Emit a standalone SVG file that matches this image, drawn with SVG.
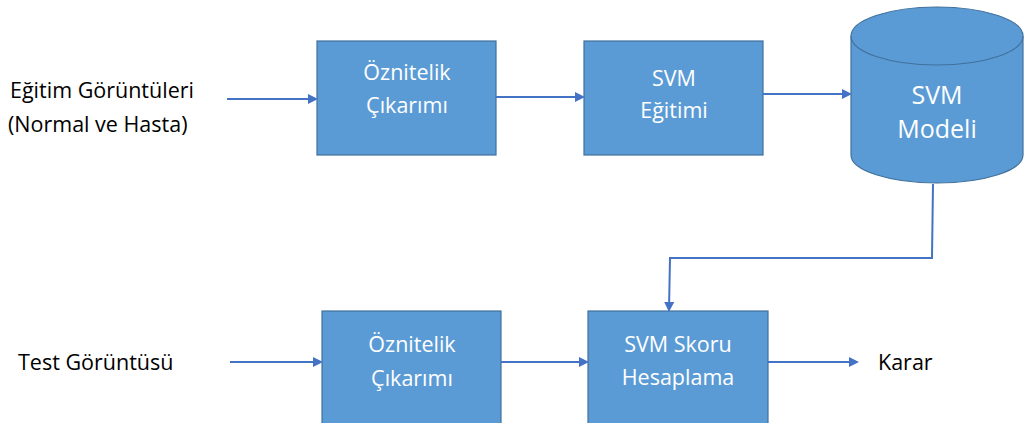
<svg xmlns="http://www.w3.org/2000/svg" width="1024" height="423" viewBox="0 0 1024 423">
<style>
.box{fill:#5B9BD5;stroke:#41719C;stroke-width:1.2}
.wt{fill:#ffffff;font-family:"Open Sans","Liberation Sans",sans-serif;font-size:21.5px;text-anchor:middle}
.bt{fill:#000000;font-family:"Open Sans","Liberation Sans",sans-serif;font-size:21.5px}
.ln{fill:none;stroke:#4472C4;stroke-width:2}
</style>
<defs>
<marker id="ah" markerWidth="10" markerHeight="10" refX="8" refY="5" orient="auto" markerUnits="userSpaceOnUse">
<path d="M0,0 L10,5 L0,10 Z" fill="#4472C4"/>
</marker>
</defs>
<rect width="1024" height="423" fill="#ffffff"/>
<g id="label-train">
<text class="bt" x="10" y="98">Eğitim Görüntüleri</text>
<text class="bt" x="8" y="132">(Normal ve Hasta)</text>
</g>
<g id="box-feat1">
<rect class="box" x="317" y="41" width="179" height="114"/>
<text class="wt" x="407" y="80">Öznitelik</text>
<text class="wt" x="407" y="113">Çıkarımı</text>
</g>
<g id="box-svmtrain">
<rect class="box" x="584" y="41" width="179" height="114"/>
<text class="wt" x="674" y="86">SVM</text>
<text class="wt" x="674" y="118">Eğitimi</text>
</g>
<g id="cyl-model">
<path class="box" d="M851,36 L851,155 A86,28 0 0 0 1023,155 L1023,36"/>
<ellipse class="box" cx="937" cy="36" rx="86" ry="29"/>
<text class="wt" x="937" y="104" style="font-size:25px">SVM</text>
<text class="wt" x="937" y="138" style="font-size:25px">Modeli</text>
</g>
<g id="label-test">
<text class="bt" x="18" y="370">Test Görüntüsü</text>
</g>
<g id="box-feat2">
<rect class="box" x="322" y="311" width="179" height="115"/>
<text class="wt" x="412" y="352">Öznitelik</text>
<text class="wt" x="412" y="386">Çıkarımı</text>
</g>
<g id="box-score">
<rect class="box" x="588" y="311" width="180" height="115"/>
<text class="wt" x="678" y="352">SVM Skoru</text>
<text class="wt" x="678" y="385">Hesaplama</text>
</g>
<g id="label-karar">
<text class="bt" x="878" y="370">Karar</text>
</g>
<g id="connectors">
<line class="ln" x1="227" y1="99" x2="316" y2="99" marker-end="url(#ah)"/>
<line class="ln" x1="496" y1="97" x2="583" y2="97" marker-end="url(#ah)"/>
<line class="ln" x1="763" y1="94" x2="850" y2="94" marker-end="url(#ah)"/>
<polyline class="ln" points="933,184 932,258 670,258 669,310" marker-end="url(#ah)"/>
<line class="ln" x1="230" y1="362" x2="321" y2="362" marker-end="url(#ah)"/>
<line class="ln" x1="501" y1="362" x2="587" y2="362" marker-end="url(#ah)"/>
<line class="ln" x1="768" y1="362" x2="857" y2="362" marker-end="url(#ah)"/>
</g>
</svg>
